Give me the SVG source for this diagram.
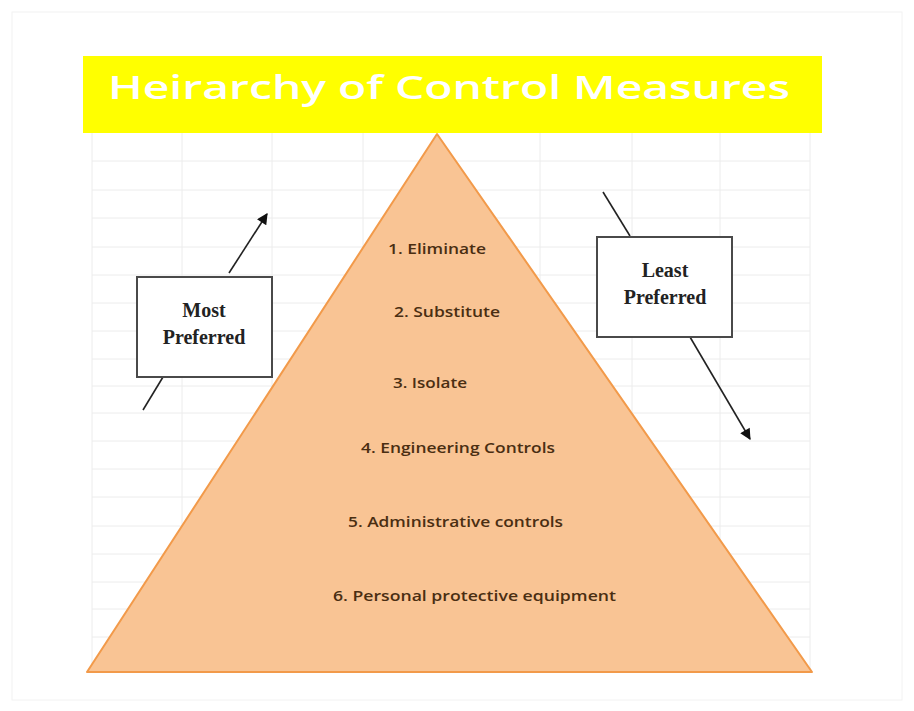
<svg xmlns="http://www.w3.org/2000/svg" width="914" height="711" viewBox="0 0 914 711">
<defs>
<style>
.grid line{stroke:#ececec;stroke-width:1}
.title{font-family:"Open Sans","Liberation Sans",sans-serif;font-size:33px;fill:#ffffff;font-weight:600}
.lvl{font-family:"Open Sans","Liberation Sans",sans-serif;font-size:15px;fill:#4a2e12;font-weight:600}
.box{fill:#ffffff;stroke:#4a4a4a;stroke-width:2}
.blabel{font-family:"Liberation Serif",serif;font-size:20px;font-weight:bold;fill:#222;text-anchor:middle}
.conn{stroke:#222;stroke-width:1.6;fill:none}
</style>
<marker id="ah" viewBox="0 0 10 10" refX="9" refY="5" markerWidth="12" markerHeight="11" markerUnits="userSpaceOnUse" orient="auto">
<path d="M0,0 L10,5 L0,10 z" fill="#111"/>
</marker>
</defs>
<rect x="0" y="0" width="914" height="711" fill="#ffffff"/>
<rect x="12" y="12" width="890" height="688" fill="none" stroke="#f2f2f2" stroke-width="1"/>
<g class="grid">
<line x1="92" y1="133" x2="92" y2="672"/>
<line x1="182" y1="133" x2="182" y2="672"/>
<line x1="272" y1="133" x2="272" y2="672"/>
<line x1="363" y1="133" x2="363" y2="672"/>
<line x1="540" y1="133" x2="540" y2="672"/>
<line x1="632" y1="133" x2="632" y2="672"/>
<line x1="720" y1="133" x2="720" y2="672"/>
<line x1="810" y1="133" x2="810" y2="672"/>
<line x1="92" y1="161" x2="810" y2="161"/>
<line x1="92" y1="190" x2="810" y2="190"/>
<line x1="92" y1="218" x2="810" y2="218"/>
<line x1="92" y1="247" x2="810" y2="247"/>
<line x1="92" y1="275" x2="810" y2="275"/>
<line x1="92" y1="303" x2="810" y2="303"/>
<line x1="92" y1="331" x2="810" y2="331"/>
<line x1="92" y1="359" x2="810" y2="359"/>
<line x1="92" y1="386" x2="810" y2="386"/>
<line x1="92" y1="413" x2="810" y2="413"/>
<line x1="92" y1="441" x2="810" y2="441"/>
<line x1="92" y1="469" x2="810" y2="469"/>
<line x1="92" y1="497" x2="810" y2="497"/>
<line x1="92" y1="526" x2="810" y2="526"/>
<line x1="92" y1="554" x2="810" y2="554"/>
<line x1="92" y1="582" x2="810" y2="582"/>
<line x1="92" y1="609" x2="810" y2="609"/>
<line x1="92" y1="637" x2="810" y2="637"/>
</g>
<g id="title">
<rect x="83" y="56" width="739" height="77" fill="#ffff00"/>
<text class="title" x="108" y="99" textLength="682" lengthAdjust="spacingAndGlyphs">Heirarchy of Control Measures</text>
</g>
<g id="pyramid">
<polygon points="437,134 87,672 812,672" fill="#f9c494" stroke="#f29a4a" stroke-width="2" stroke-linejoin="round"/>
<text class="lvl" x="388" y="254" textLength="98" lengthAdjust="spacingAndGlyphs">1. Eliminate</text>
<text class="lvl" x="394" y="317" textLength="106" lengthAdjust="spacingAndGlyphs">2. Substitute</text>
<text class="lvl" x="393" y="388" textLength="74" lengthAdjust="spacingAndGlyphs">3. Isolate</text>
<text class="lvl" x="361" y="453" textLength="194" lengthAdjust="spacingAndGlyphs">4. Engineering Controls</text>
<text class="lvl" x="348" y="527" textLength="215" lengthAdjust="spacingAndGlyphs">5. Administrative controls</text>
<text class="lvl" x="333" y="601" textLength="283" lengthAdjust="spacingAndGlyphs">6. Personal protective equipment</text>
</g>
<g id="connectors">
<line class="conn" x1="229" y1="273" x2="267" y2="214" marker-end="url(#ah)"/>
<line class="conn" x1="163" y1="377" x2="143" y2="410"/>
<line class="conn" x1="603" y1="192" x2="630" y2="236"/>
<line class="conn" x1="690" y1="337" x2="750" y2="439" marker-end="url(#ah)"/>
</g>
<g id="most-preferred">
<rect class="box" x="137" y="277" width="135" height="100"/>
<text class="blabel" x="204" y="317">Most</text>
<text class="blabel" x="204" y="344">Preferred</text>
</g>
<g id="least-preferred">
<rect class="box" x="597" y="237" width="135" height="100"/>
<text class="blabel" x="665" y="277">Least</text>
<text class="blabel" x="665" y="304">Preferred</text>
</g>
</svg>
